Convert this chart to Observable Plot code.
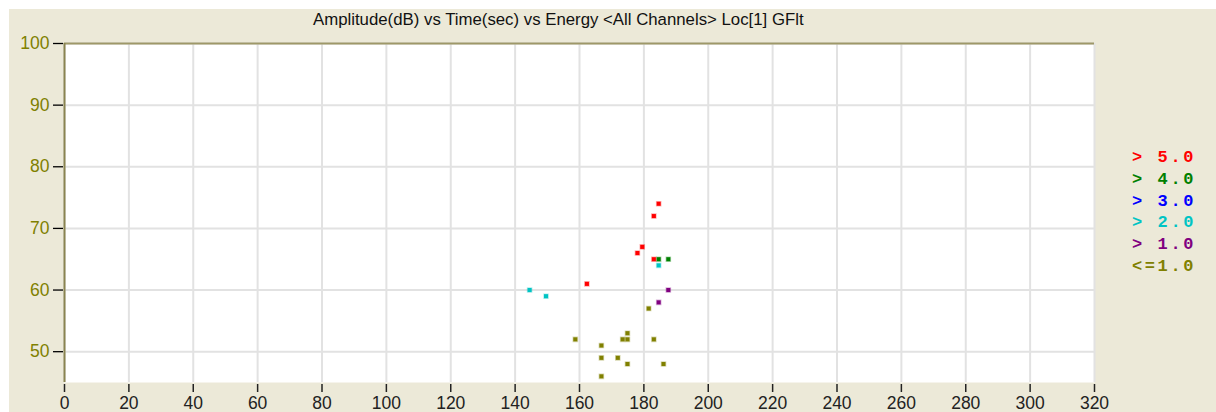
<!DOCTYPE html>
<html>
<head>
<meta charset="utf-8">
<script src="https://cdn.jsdelivr.net/npm/d3@7"></script>
<script src="https://cdn.jsdelivr.net/npm/@observablehq/plot@0.6"></script>
<style>
  html, body { margin: 0; padding: 0; background: #ffffff; }
  #panel { position: absolute; left: 9px; top: 9px; width: 1207px; height: 403px; background: #ECE9D8; overflow: hidden; }
  #title { position: absolute; left: 304px; top: 1px; font-family: "Liberation Sans", Arial, sans-serif; font-size: 16.8px; line-height: 19px; color: #111; white-space: nowrap; }
  #chart { position: absolute; left: 0; top: 0; }
  #legend { position: absolute; left: 1123px; top: 138px; font-family: "Liberation Mono", "Courier New", monospace; font-weight: bold; font-size: 17px; letter-spacing: 2.6px; line-height: 21.8px; white-space: pre; }
</style>
</head>
<body>
<div id="panel">
  <div id="chart"></div>
  <div id="title"></div>
  <div id="legend"></div>
</div>
<script>
const titleText = "Amplitude(dB) vs Time(sec) vs Energy <All Channels> Loc[1] GFlt";

// Energy classes (legend order) and their colours
const energyLabels = ["> 5.0", "> 4.0", "> 3.0", "> 2.0", "> 1.0", "<=1.0"];
const energyColors = ["#FF0000", "#008000", "#0000FF", "#00C4C4", "#800080", "#808000"];

// Hits: time (sec), amplitude (dB), energy class
const hitTime = [
  184.6, 183.1, 179.5, 178.0, 183.1, 162.3,
  184.6, 187.6,
  184.6, 144.5, 149.6,
  187.6, 184.6,
  181.5, 174.9, 158.7, 173.4, 174.9, 183.1, 166.8, 166.8, 171.9, 174.9, 186.1, 166.8
];
const hitAmp = [
  74, 72, 67, 66, 65, 61,
  65, 65,
  64, 60, 59,
  60, 58,
  57, 53, 52, 52, 52, 52, 51, 49, 49, 48, 48, 46
];
const hitClass = [
  "> 5.0", "> 5.0", "> 5.0", "> 5.0", "> 5.0", "> 5.0",
  "> 4.0", "> 4.0",
  "> 2.0", "> 2.0", "> 2.0",
  "> 1.0", "> 1.0",
  "<=1.0", "<=1.0", "<=1.0", "<=1.0", "<=1.0", "<=1.0", "<=1.0", "<=1.0", "<=1.0", "<=1.0", "<=1.0", "<=1.0"
];

const xTicks = d3.range(0, 321, 20);
const yTicks = [50, 60, 70, 80, 90, 100];

const hits = hitTime.map((t, i) => ({time: t, amp: hitAmp[i], cls: hitClass[i]}));
// draw lower classes first so higher energy sits on top
hits.sort((a, b) => energyLabels.indexOf(b.cls) - energyLabels.indexOf(a.cls));

const chart = Plot.plot({
  width: 1207,
  height: 403,
  marginLeft: 55,
  marginRight: 122,
  marginTop: 34,
  marginBottom: 30,
  style: {background: "transparent", fontFamily: "'Liberation Sans', Arial, sans-serif", fontSize: "17.5px"},
  x: {domain: [0, 320], label: null},
  y: {domain: [45, 100], label: null},
  color: {domain: energyLabels, range: energyColors},
  marks: [
    Plot.frame({fill: "white", stroke: null}),
    Plot.gridX(xTicks, {stroke: "#e2e2e2", strokeOpacity: 1, strokeWidth: 2}),
    Plot.gridY(yTicks, {stroke: "#e2e2e2", strokeOpacity: 1, strokeWidth: 2}),
    Plot.ruleY([100], {stroke: "#9e9868", strokeWidth: 2}),
    Plot.ruleX([0], {stroke: "#8a8450", strokeWidth: 2}),
    Plot.axisY({ticks: yTicks, tickSize: 10, tickFormat: () => "", label: null, stroke: "#000", strokeWidth: 1.3, dx: -1}),
    Plot.axisY({ticks: yTicks, tickSize: 0, tickPadding: 15, label: null, fill: "#808000", fontSize: 17.5}),
    Plot.axisX({ticks: xTicks, tickSize: 8, tickPadding: 4, dy: 2, label: null, stroke: "#222", strokeWidth: 1.5, fill: "#222", fontSize: 17.5}),
    Plot.dot(hits, {x: "time", y: "amp", fill: "cls", stroke: "cls", strokeOpacity: 0.3, strokeWidth: 1.5, symbol: "square", r: 2.3})
  ]
});
document.getElementById("chart").appendChild(chart);
document.getElementById("title").textContent = titleText;

const legend = document.getElementById("legend");
energyLabels.forEach((lab, i) => {
  const row = document.createElement("div");
  row.textContent = lab;
  row.style.color = energyColors[i];
  legend.appendChild(row);
});
</script>
</body>
</html>
